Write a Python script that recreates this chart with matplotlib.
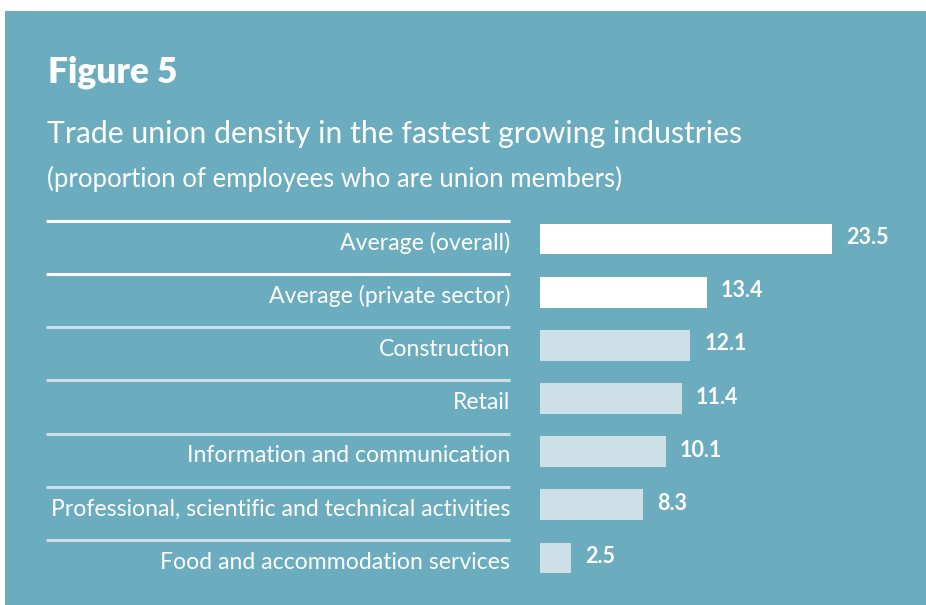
#!/usr/bin/env python3

import numpy as np
import matplotlib
matplotlib.use('Agg')
from matplotlib import pyplot as plt
from matplotlib import transforms
from matplotlib.patches import Rectangle

categories = ['Average (overall)', 'Average (private sector)', 'Construction',
              'Retail', 'Information and communication',
              'Professional, scientific and technical activities',
              'Food and accommodation services']
values = [23.5, 13.4, 12.1, 11.4, 10.1, 8.3, 2.5]
highlight = [True, True, False, False, False, False, False]

TEAL = '#6badbf'
PALE = '#cddfe7'
W, H = 926, 605

plt.rcParams['font.family'] = ['Lato', 'DejaVu Sans']

fig = plt.figure(figsize=(W / 100, H / 100), dpi=100)
fig.patch.set_facecolor('white')
fig.patches.append(Rectangle((5 / W, 0), 1, (H - 11) / H, transform=fig.transFigure,
                             facecolor=TEAL, edgecolor='none', zorder=-10))

fig.text(48 / W, 1 - 72 / H, 'Figure 5', color='white', fontsize=25.5,
         fontweight='heavy', va='center')
fig.text(47 / W, 1 - 134 / H, 'Trade union density in the fastest growing industries',
         color='white', fontsize=21.7, va='center')
fig.text(47 / W, 1 - 179 / H, '(proportion of employees who are union members)',
         color='white', fontsize=18.5, va='center')

ax = fig.add_axes([540 / W, (H - 584.6) / H, 360.5 / W, 372.2 / H])
ax.set_facecolor('none')
y = np.arange(len(categories))
colors = ['white' if h else PALE for h in highlight]
ax.barh(y, values, height=0.58, color=colors)
ax.set_xlim(0, 29)
ax.set_ylim(len(categories) - 0.5, -0.5)
ax.axis('off')

for yi, v in zip(y, values):
    ax.annotate('{0:.1f}'.format(v), (v, yi), xytext=(10, 1), textcoords='offset points',
                color='white', fontsize=15.5, fontweight='bold', va='center')

blend = transforms.blended_transform_factory(fig.transFigure, ax.transData)
for yi, cat, h in zip(y, categories, highlight):
    ax.text(510 / W, yi + 0.08, cat, transform=blend, ha='right', va='center',
            color='white', fontsize=16.6)
    ax.plot([46 / W, 510 / W], [yi - 0.34, yi - 0.34], transform=blend,
            color='white' if h else PALE, lw=2.2, clip_on=False, solid_capstyle='butt')

plt.savefig('out.png', dpi=100)
